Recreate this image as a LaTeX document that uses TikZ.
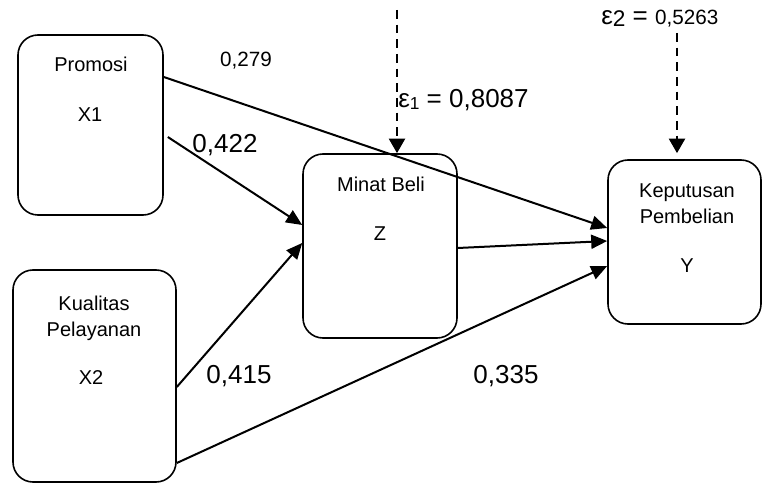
\documentclass[tikz,border=0pt]{standalone}
\usepackage{fontspec}
\setmainfont{Liberation Sans}
\usetikzlibrary{arrows.meta}
\begin{document}
\begin{tikzpicture} [
        x=0.75pt, y=-0.75pt,
        box/.style={draw=black, rectangle, rounded corners=15pt, line width=1.2pt},
        txt/.style={anchor=base, inner sep=0pt, align=center, font=\fontsize{15}{19.5}\selectfont},
        small/.style={anchor=base, inner sep=0pt, font=\fontsize{15.5}{18}\selectfont},
        big/.style={anchor=base, inner sep=0pt, font=\fontsize{19.5}{23}\selectfont},
        arr/.style={-{Triangle[length=12pt,width=10.5pt]}, line width=1.5pt},
        dasharr/.style={-{Triangle[length=11pt,width=12pt]}, line width=2pt, dash pattern=on 6.5pt off 4.5pt} ]
    \useasboundingbox (0,0) rectangle (763,484);
    % boxes
    \node[box, minimum width=108.75pt, minimum height=135pt] (x1) at (90.5,125) {};
    \node[box, minimum width=122.25pt, minimum height=159pt] (x2) at (94.5,376) {};
    \node[box, minimum width=115.5pt, minimum height=138pt] (z) at (380,246) {};
    \node[box, minimum width=114.75pt, minimum height=123pt] (y) at (684.5,242) {};
    % box texts (base of the last line)
    \node[txt] (x1name) at (91,72) {Promosi};
    \node[txt] (x1var) at (90,122) {X1};
    \node[txt] (x2name) at (94,336) {Kualitas\\Pelayanan};
    \node[txt] (x2var) at (91,384) {X2};
    \node[txt] (zname) at (381,192) {Minat Beli};
    \node[txt] (zvar) at (380,241) {Z};
    \node[txt] (yname) at (687,224) {Keputusan\\Pembelian};
    \node[txt] (yvar) at (687,273) {Y};
    % paths
    \draw[arr] (x1.east |- 0,77) -- (y.west |- 0,228);
    \draw[arr] ([xshift=3pt]x1.east |- 0,137) -- (z.west |- 0,225);
    \draw[arr] (x2.east |- 0,387) -- (z.west |- 0,243);
    \draw[arr] (x2.east |- 0,463) -- (y.west |- 0,266);
    \draw[arr] (z.east |- 0,248) -- (y.west |- 0,241);
    % residuals
    \coordinate (e1) at (397,10);
    \coordinate (e2) at (677,33);
    \draw[dasharr] (e1) -- (e1 |- z.north);
    \draw[dasharr] (e2) -- ([yshift=4.5pt]e2 |- y.north);
    % coefficients
    \node[small] (p279) at (246,67) {0,279};
    \node[big] (p422) at (225,153) {0,422};
    \node[big] (p415) at (239,383) {0,415};
    \node[big] (p335) at (506,383) {0,335};
    \node[big, anchor=base west] (e1lab) at (398,108) {ε\raisebox{-1pt}{\fontsize{13}{13}\selectfont 1} = 0,8087};
    \node[big, anchor=base west] (e2lab) at (601,25) {ε\raisebox{-1.5pt}{\fontsize{17}{17}\selectfont 2} = {\fontsize{15.5}{18}\selectfont 0,5263}};
\end{tikzpicture}
\end{document}
